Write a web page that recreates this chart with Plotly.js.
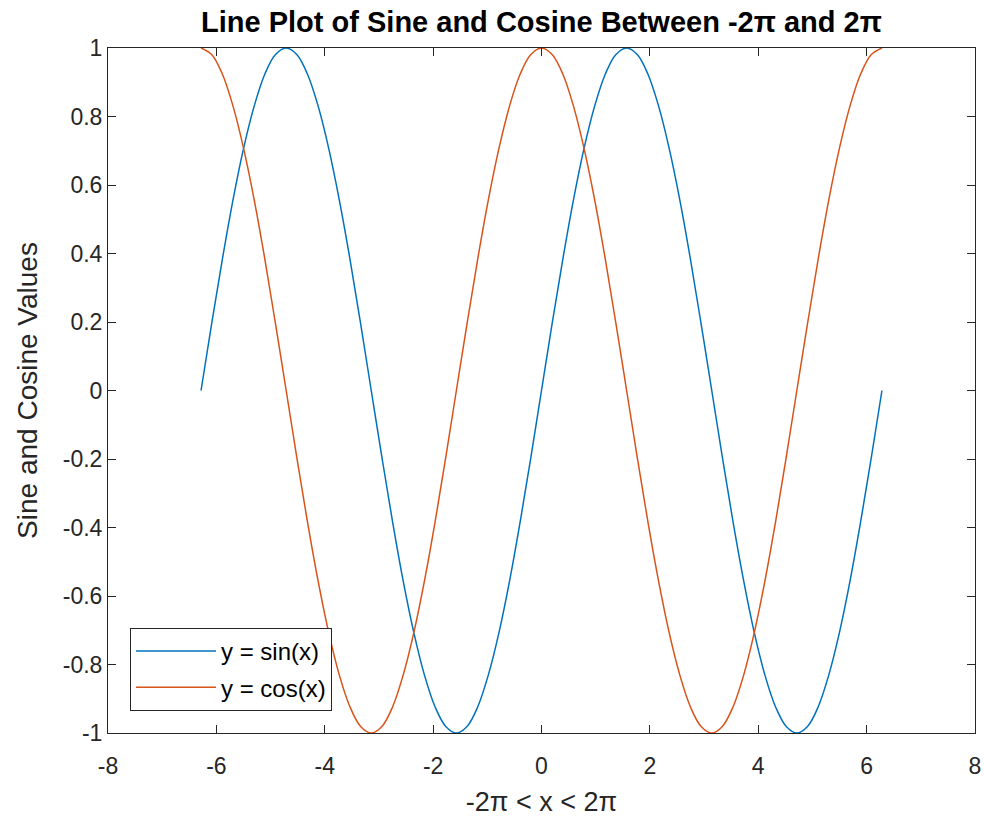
<!DOCTYPE html>
<html>
<head>
<meta charset="utf-8">
<script src="https://cdn.plot.ly/plotly-3.0.1.min.js"></script>
<style>html,body{margin:0;padding:0;background:#fff;}#chart{width:984px;height:817px;}</style>
</head>
<body>
<div id="chart"></div>
<script>
// x samples between -2π and 2π (step π/16)
const xValues = [-6.283,-6.087,-5.890,-5.694,-5.498,-5.301,-5.105,-4.909,-4.712,-4.516,-4.320,-4.123,-3.927,-3.731,-3.534,-3.338,-3.142,-2.945,-2.749,-2.553,-2.356,-2.160,-1.963,-1.767,-1.571,-1.374,-1.178,-0.982,-0.785,-0.589,-0.393,-0.196,0,0.196,0.393,0.589,0.785,0.982,1.178,1.374,1.571,1.767,1.963,2.160,2.356,2.553,2.749,2.945,3.142,3.338,3.534,3.731,3.927,4.123,4.320,4.516,4.712,4.909,5.105,5.301,5.498,5.694,5.890,6.087,6.283];
const sinValues = [0,0.195,0.383,0.556,0.707,0.831,0.924,0.981,1,0.981,0.924,0.831,0.707,0.556,0.383,0.195,0,-0.195,-0.383,-0.556,-0.707,-0.831,-0.924,-0.981,-1,-0.981,-0.924,-0.831,-0.707,-0.556,-0.383,-0.195,0,0.195,0.383,0.556,0.707,0.831,0.924,0.981,1,0.981,0.924,0.831,0.707,0.556,0.383,0.195,0,-0.195,-0.383,-0.556,-0.707,-0.831,-0.924,-0.981,-1,-0.981,-0.924,-0.831,-0.707,-0.556,-0.383,-0.195,0];
const cosValues = [1,0.981,0.924,0.831,0.707,0.556,0.383,0.195,0,-0.195,-0.383,-0.556,-0.707,-0.831,-0.924,-0.981,-1,-0.981,-0.924,-0.831,-0.707,-0.556,-0.383,-0.195,0,0.195,0.383,0.556,0.707,0.831,0.924,0.981,1,0.981,0.924,0.831,0.707,0.556,0.383,0.195,0,-0.195,-0.383,-0.556,-0.707,-0.831,-0.924,-0.981,-1,-0.981,-0.924,-0.831,-0.707,-0.556,-0.383,-0.195,0,0.195,0.383,0.556,0.707,0.831,0.924,0.981,1];
const seriesNames = ["y = sin(x)", "y = cos(x)"];
const xTickVals = [-8,-6,-4,-2,0,2,4,6,8];
const xTickText = ["-8","-6","-4","-2","0","2","4","6","8"];
const yTickVals = [-1,-0.8,-0.6,-0.4,-0.2,0,0.2,0.4,0.6,0.8,1];
const yTickText = ["-1","-0.8","-0.6","-0.4","-0.2","0","0.2","0.4","0.6","0.8","1"];

const axisColor = "#262626";
const fontFam = "Liberation Sans, Arial, sans-serif";

const traces = [
  {x: xValues, y: sinValues, name: seriesNames[0], type: "scatter", mode: "lines",
   line: {color: "#0072BD", width: 1.5, shape: "spline", smoothing: 1}, legendgroup: "a"},
  {x: xValues, y: cosValues, name: seriesNames[1], type: "scatter", mode: "lines",
   line: {color: "#D95319", width: 1.5, shape: "spline", smoothing: 1}, legendgroup: "b"}
];

const axCommon = {
  showgrid: false, zeroline: false, showline: true, mirror: "ticks",
  linecolor: axisColor, linewidth: 1, ticks: "inside", ticklen: 8, tickwidth: 1,
  tickcolor: axisColor, tickfont: {family: fontFam, size: 23, color: axisColor},
  tickmode: "array"
};

const layout = {
  width: 984, height: 817,
  margin: {l: 108, r: 9, t: 48, b: 84},
  paper_bgcolor: "#fff", plot_bgcolor: "#fff",
  font: {family: fontFam, color: axisColor},
  title: {text: "Line Plot of Sine and Cosine Between -2π and 2π",
          font: {family: fontFam, size: 29, color: "#000", weight: "bold"},
          x: 0.5, xref: "paper", xanchor: "center", y: 0.973, yref: "container", yanchor: "middle"},
  xaxis: Object.assign({}, axCommon, {range: [-8, 8], tickvals: xTickVals, ticktext: xTickText,
          ticklabelstandoff: 12,
          title: {text: "-2π < x < 2π", font: {family: fontFam, size: 27, color: axisColor}, standoff: 14}}),
  yaxis: Object.assign({}, axCommon, {range: [-1, 1], tickvals: yTickVals, ticktext: yTickText,
          title: {text: "Sine and Cosine Values", font: {family: fontFam, size: 28, color: axisColor}, standoff: 16}}),
  showlegend: true,
  legend: {x: 0.0254, y: 0.0321, xanchor: "left", yanchor: "bottom",
           bgcolor: "#fff", bordercolor: axisColor, borderwidth: 1,
           font: {family: fontFam, size: 24, color: "#000"}, itemwidth: 80,
           tracegroupgap: 2, traceorder: "grouped"}
};

Plotly.newPlot("chart", traces, layout, {displayModeBar: false, staticPlot: true});
</script>
</body>
</html>
